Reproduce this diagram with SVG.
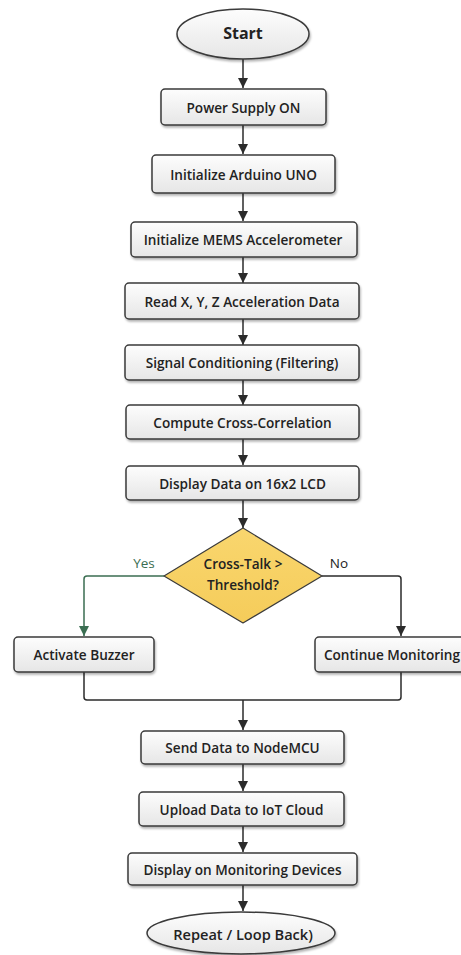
<svg xmlns="http://www.w3.org/2000/svg" width="461" height="955" viewBox="0 0 461 955">
<defs>
<linearGradient id="boxg" x1="0" y1="0" x2="0" y2="1">
<stop offset="0" stop-color="#fdfdfd"/>
<stop offset="1" stop-color="#e6e6e6"/>
</linearGradient>
<linearGradient id="dg" x1="0" y1="0" x2="0" y2="1">
<stop offset="0" stop-color="#f9d66e"/>
<stop offset="1" stop-color="#f5cc5a"/>
</linearGradient>
<filter id="sh" x="-10%" y="-20%" width="120%" height="150%">
<feDropShadow dx="1" dy="2" stdDeviation="1.2" flood-color="#000" flood-opacity="0.3"/>
</filter>
<marker id="ah" viewBox="0 0 10 10" refX="10" refY="5" markerWidth="10" markerHeight="10" markerUnits="userSpaceOnUse" orient="auto">
<path d="M0,0 L10,5 L0,10 Z" fill="#2b2b2b"/>
</marker>
<marker id="ahg" viewBox="0 0 10 10" refX="10" refY="5" markerWidth="10" markerHeight="10" markerUnits="userSpaceOnUse" orient="auto">
<path d="M0,0 L10,5 L0,10 Z" fill="#3b6e52"/>
</marker>
</defs>
<style>
.box{fill:url(#boxg);stroke:#3a3a3a;stroke-width:1.5;filter:url(#sh)}
.t{font-family:"Open Sans","Noto Sans",sans-serif;font-weight:600;font-size:13.6px;fill:#222;text-anchor:middle;dominant-baseline:central}
.tb{font-family:"Open Sans","Noto Sans",sans-serif;font-weight:700;font-size:16px;fill:#222;text-anchor:middle;dominant-baseline:central}
.c{fill:none;stroke:#2b2b2b;stroke-width:1.5}
.cg{fill:none;stroke:#3b6e52;stroke-width:1.5}
.lbl{font-family:"Open Sans","Noto Sans",sans-serif;font-weight:500;font-size:13.5px;text-anchor:middle;dominant-baseline:central}
</style>
<g id="connectors">
<path class="c" d="M243,59 V88" marker-end="url(#ah)"/>
<path class="c" d="M243,125 V154" marker-end="url(#ah)"/>
<path class="c" d="M243,193 V221" marker-end="url(#ah)"/>
<path class="c" d="M243,257 V283" marker-end="url(#ah)"/>
<path class="c" d="M243,319 V345" marker-end="url(#ah)"/>
<path class="c" d="M243,380 V405" marker-end="url(#ah)"/>
<path class="c" d="M243,439 V465" marker-end="url(#ah)"/>
<path class="c" d="M243,500 V528" marker-end="url(#ah)"/>
<path class="cg" d="M164,576 H87 Q84,576 84,579 V636" marker-end="url(#ahg)"/>
<path class="c" d="M322,576 H398 Q401,576 401,579 V636" marker-end="url(#ah)"/>
<path class="c" d="M84,672 V697 Q84,700 87,700 H398 Q401,700 401,697 V672"/>
<path class="c" d="M243,700 V730" marker-end="url(#ah)"/>
<path class="c" d="M243,764 V791" marker-end="url(#ah)"/>
<path class="c" d="M243,826 V852" marker-end="url(#ah)"/>
<path class="c" d="M243,885 V911" marker-end="url(#ah)"/>
<text class="lbl" x="144" y="563" fill="#3b6e52">Yes</text>
<text class="lbl" x="339" y="563" fill="#222">No</text>
</g>
<g id="start">
<ellipse class="box" cx="243" cy="34" rx="66" ry="25"/>
<text class="tb" x="243" y="33">Start</text>
</g>
<g id="power">
<rect class="box" x="161" y="89" width="165" height="36" rx="4"/>
<text class="t" x="243.5" y="107">Power Supply ON</text>
</g>
<g id="arduino">
<rect class="box" x="152" y="155" width="183" height="38" rx="4"/>
<text class="t" x="243.5" y="174">Initialize Arduino UNO</text>
</g>
<g id="mems">
<rect class="box" x="131" y="222" width="226" height="35" rx="4"/>
<text class="t" x="243" y="239.5">Initialize MEMS Accelerometer</text>
</g>
<g id="read">
<rect class="box" x="125" y="283" width="234" height="36" rx="4"/>
<text class="t" x="242" y="301">Read X, Y, Z Acceleration Data</text>
</g>
<g id="signal">
<rect class="box" x="125" y="345" width="234" height="35" rx="4"/>
<text class="t" x="242" y="362.5">Signal Conditioning (Filtering)</text>
</g>
<g id="compute">
<rect class="box" x="126" y="405" width="233" height="34" rx="4"/>
<text class="t" x="242.5" y="422">Compute Cross-Correlation</text>
</g>
<g id="lcd">
<rect class="box" x="126" y="466" width="233" height="34" rx="4"/>
<text class="t" x="242.5" y="483">Display Data on 16x2 LCD</text>
</g>
<g id="decision">
<polygon points="243,528 322,576 243,623 164,576" fill="url(#dg)" stroke="#3a3a3a" stroke-width="1.2" stroke-linejoin="round"/>
<text class="t" x="243" y="563">Cross-Talk &gt;</text>
<text class="t" x="243" y="584">Threshold?</text>
</g>
<g id="buzzer">
<rect class="box" x="14" y="637" width="140" height="35" rx="4"/>
<text class="t" x="84" y="654.5">Activate Buzzer</text>
</g>
<g id="continue">
<rect class="box" x="315" y="637" width="152" height="35" rx="4"/>
<text class="t" x="392" y="654.5">Continue Monitoring</text>
</g>
<g id="send">
<rect class="box" x="141" y="731" width="203" height="33" rx="4"/>
<text class="t" x="242.5" y="747.5">Send Data to NodeMCU</text>
</g>
<g id="upload">
<rect class="box" x="139" y="792" width="205" height="34" rx="4"/>
<text class="t" x="241.5" y="809">Upload Data to IoT Cloud</text>
</g>
<g id="devices">
<rect class="box" x="128" y="853" width="229" height="32" rx="4"/>
<text class="t" x="242.5" y="869">Display on Monitoring Devices</text>
</g>
<g id="repeat">
<ellipse class="box" cx="241" cy="933" rx="94" ry="21"/>
<text class="t" x="243" y="934" style="font-size:14.6px">Repeat / Loop Back)</text>
</g>
</svg>
